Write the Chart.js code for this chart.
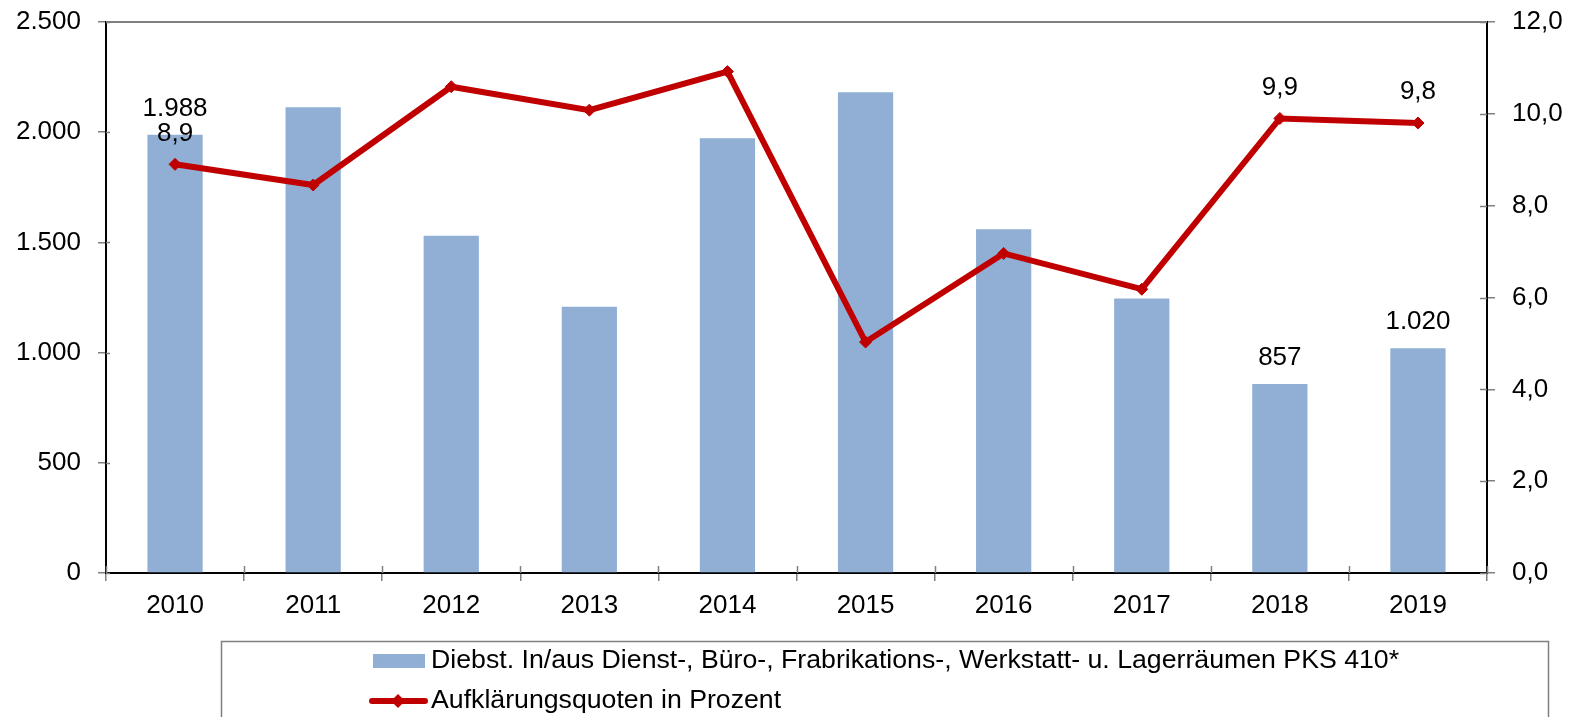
<!DOCTYPE html>
<html lang="de">
  <head>
    <meta charset="UTF-8" />
    <title>Diebstahl PKS 410</title>
    <style>
      html, body { margin: 0; padding: 0; background: #fff; }
      #wrap { width: 1572px; height: 717px; position: relative; }
    </style>
  </head>
  <body>
    <div id="wrap"><canvas id="chart"></canvas></div>
    <script src="https://cdn.jsdelivr.net/npm/chart.js@4.4.0/dist/chart.umd.min.js"></script>
    <script>
      // Daten
      var jahre = ['2010', '2011', '2012', '2013', '2014', '2015', '2016', '2017', '2018', '2019'];
      var faelle = [1988, 2113, 1530, 1208, 1972, 2181, 1560, 1246, 857, 1020];
      var quoten = [8.9, 8.45, 10.59, 10.08, 10.92, 5.03, 6.96, 6.18, 9.9, 9.8];
      var beschriftet = ['2010', '2018', '2019'];

      var balkenLabel = 'Diebst. In/aus Dienst-, Büro-, Frabrikations-, Werkstatt- u. Lagerräumen PKS 410*';
      var linienLabel = 'Aufklärungsquoten in Prozent';

      var blau = '#91AFD5';
      var rot = '#C00000';
      var schrift = '"Liberation Sans", Arial, sans-serif';

      function tausender(v) {
        return String(v).replace(/\B(?=(\d{3})+(?!\d))/g, '.');
      }
      function komma(v) {
        return v.toFixed(1).replace('.', ',');
      }

      // feste Achsenmaße, ohne Zusatzabstände
      function festBreite(w) {
        return function (s) {
          s.width = w;
          s.paddingTop = 0; s.paddingBottom = 0;
        };
      }

      // Rahmen oben + Striche nach innen
      var rahmen = {
        id: 'rahmen',
        afterDraw: function (chart) {
          var ctx = chart.ctx, a = chart.chartArea;
          ctx.save();
          ctx.strokeStyle = '#808080';
          ctx.lineWidth = 2;
          ctx.beginPath();
          ctx.moveTo(a.left, a.top);
          ctx.lineTo(a.right, a.top);
          ctx.stroke();
          ctx.lineWidth = 1.5;
          var sy = chart.scales.y, sy2 = chart.scales.y2;
          ctx.beginPath();
          sy.ticks.forEach(function (t) {
            var y = Math.round(sy.getPixelForValue(t.value)) + 0.5;
            ctx.moveTo(a.left, y); ctx.lineTo(a.left + 4, y);
          });
          sy2.ticks.forEach(function (t) {
            var y = Math.round(sy2.getPixelForValue(t.value)) + 0.5;
            ctx.moveTo(a.right, y); ctx.lineTo(a.right - 7, y);
          });
          for (var i = 0; i <= jahre.length; i++) {
            var x = Math.round(a.left + (a.right - a.left) * i / jahre.length) + 0.5;
            ctx.moveTo(x, a.bottom); ctx.lineTo(x, a.bottom - 7);
          }
          ctx.stroke();
          ctx.restore();
        }
      };

      // Datenbeschriftungen
      var werte = {
        id: 'werte',
        afterDatasetsDraw: function (chart) {
          var ctx = chart.ctx;
          ctx.save();
          ctx.font = '26px ' + schrift;
          ctx.fillStyle = '#000';
          ctx.textAlign = 'center';
          ctx.textBaseline = 'middle';
          var bars = chart.getDatasetMeta(0).data;
          var punkte = chart.getDatasetMeta(1).data;
          jahre.forEach(function (j, i) {
            if (beschriftet.indexOf(j) < 0) return;
            ctx.fillText(tausender(faelle[i]), bars[i].x, bars[i].y - 26);
            ctx.fillText(komma(quoten[i]), punkte[i].x, punkte[i].y - 31);
          });
          ctx.restore();
        }
      };

      // Legende unten
      var legende = {
        id: 'legende',
        afterDraw: function (chart) {
          var ctx = chart.ctx;
          ctx.save();
          ctx.strokeStyle = '#7f7f7f';
          ctx.lineWidth = 1.5;
          ctx.strokeRect(221.5, 641.5, 1327, 100);
          ctx.fillStyle = blau;
          ctx.fillRect(373, 654, 52, 14);
          ctx.strokeStyle = rot;
          ctx.lineWidth = 6;
          ctx.lineCap = 'round';
          ctx.beginPath();
          ctx.moveTo(372, 701);
          ctx.lineTo(425, 701);
          ctx.stroke();
          ctx.fillStyle = rot;
          ctx.beginPath();
          ctx.moveTo(398, 694); ctx.lineTo(405, 701); ctx.lineTo(398, 708); ctx.lineTo(391, 701);
          ctx.closePath();
          ctx.fill();
          ctx.fillStyle = '#000';
          ctx.font = '26.7px ' + schrift;
          ctx.textBaseline = 'alphabetic';
          ctx.fillText(balkenLabel, 431, 668);
          ctx.fillText(linienLabel, 431, 708);
          ctx.restore();
        }
      };

      new Chart(document.getElementById('chart'), {
        type: 'bar',
        data: {
          labels: jahre,
          datasets: [
            {
              type: 'bar',
              label: balkenLabel,
              data: faelle,
              backgroundColor: blau,
              barPercentage: 0.4,
              categoryPercentage: 1.0,
              yAxisID: 'y',
              order: 2,
            },
            {
              type: 'line',
              label: linienLabel,
              data: quoten,
              borderColor: rot,
              backgroundColor: rot,
              borderWidth: 6,
              tension: 0,
              pointStyle: 'rectRot',
              pointRadius: 6,
              pointBorderWidth: 1,
              pointBackgroundColor: rot,
              pointBorderColor: rot,
              yAxisID: 'y2',
              order: 1,
            },
          ],
        },
        options: {
          responsive: true,
          maintainAspectRatio: false,
          animation: false,
          layout: { padding: { top: 22, bottom: 0, left: 0, right: 0 } },
          plugins: {
            legend: { display: false },
            tooltip: { enabled: false },
          },
          scales: {
            x: {
              offset: true,
              grid: { display: true, drawOnChartArea: false, offset: true, tickLength: 8, color: '#808080', lineWidth: 1.5 },
              border: { display: true, color: '#000', width: 2 },
              ticks: { color: '#000', font: { family: schrift, size: 26 }, padding: 9, maxRotation: 0 },
              afterFit: function (s) {
                s.height = 144;
                s.paddingLeft = 0; s.paddingRight = 0;
              },
            },
            y: {
              position: 'left',
              min: 0,
              max: 2500,
              ticks: { stepSize: 500, color: '#000', font: { family: schrift, size: 26 }, padding: 17,
                callback: function (v) { return tausender(v); } },
              grid: { drawOnChartArea: false, tickLength: 8, color: '#808080', lineWidth: 1.5 },
              border: { display: true, color: '#000', width: 2 },
              afterFit: festBreite(106),
            },
            y2: {
              position: 'right',
              min: 0,
              max: 12,
              ticks: { stepSize: 2, color: '#000', font: { family: schrift, size: 26 }, padding: 17,
                callback: function (v) { return komma(v); } },
              grid: { drawOnChartArea: false, tickLength: 8, color: '#808080', lineWidth: 1.5 },
              border: { display: true, color: '#000', width: 2 },
              afterFit: festBreite(85),
            },
          },
        },
        plugins: [rahmen, werte, legende],
      });
    </script>
  </body>
</html>
